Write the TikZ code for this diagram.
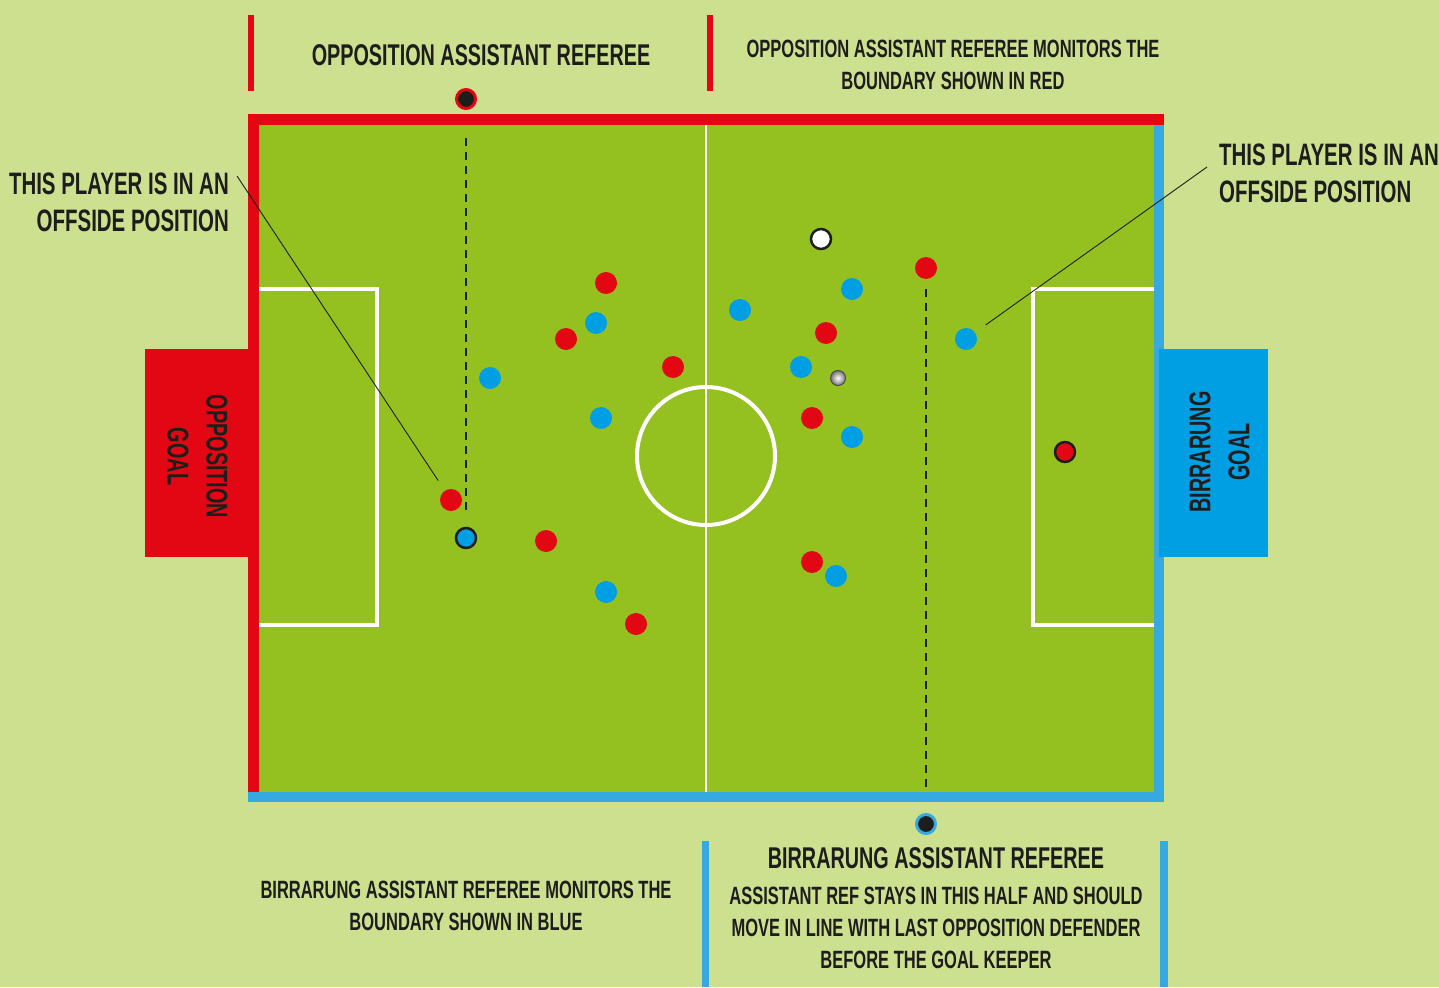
\documentclass[tikz,border=0pt]{standalone}
\usepackage{fontspec}
\newfontfamily\labfont{Liberation Sans}[FakeStretch=0.66]
\usetikzlibrary{calc}
\definecolor{bgc}{RGB}{205,224,144}
\definecolor{fieldc}{RGB}{148,193,31}
\definecolor{redc}{RGB}{227,6,19}
\definecolor{linec}{RGB}{54,169,225}
\definecolor{bluec}{RGB}{0,159,227}
\definecolor{txc}{RGB}{29,29,27}
\tikzset{
  bigtxt/.style={font={\labfont\bfseries\fontsize{30}{38}\selectfont}, text=txc, inner sep=0pt},
  smalltxt/.style={font={\labfont\bfseries\fontsize{25}{32}\selectfont}, text=txc, inner sep=0pt},
  annotxt/.style={font={\labfont\bfseries\fontsize{31}{37}\selectfont}, text=txc, inner sep=0pt},
  redp/.style={circle, fill=redc, minimum size=22pt, inner sep=0pt},
  bluep/.style={circle, fill=bluec, minimum size=22pt, inner sep=0pt},
  outlined/.style={draw=txc, line width=2.5pt, minimum size=20pt},
  refp/.style={circle, fill=txc, minimum size=19pt, inner sep=0pt, line width=3pt},
  whiteline/.style={draw=white, line width=4pt},
  leader/.style={draw=txc, line width=0.9pt},
  offline/.style={draw=txc, line width=1.2pt, dash pattern=on 8pt off 6pt},
}
\begin{document}
\begin{tikzpicture}[x=1pt,y=-1pt]
\useasboundingbox (0,0) rectangle (1439,987);
\fill[bgc] (0,0) rectangle (1439,987);

% left goal
\fill[redc] (145,349) rectangle (250,557);
\node[bigtxt, rotate=-90, align=center, font={\labfont\bfseries\fontsize{30}{39}\selectfont}] (oppgoal) at (197.5,456.5) {OPPOSITION\\GOAL};

% field
\fill[fieldc] (248,114) rectangle (1164,802);
\draw[draw=white, line width=2.5pt] (706,125) -- (706,792);
\draw[whiteline] (706,456) circle (69);
\draw[whiteline] (259,289) -- (377,289) -- (377,625) -- (259,625);
\draw[whiteline] (1154,289) -- (1033,289) -- (1033,625) -- (1154,625);

% boundaries
\fill[redc] (248,114) rectangle (1164,125);
\fill[redc] (248,114) rectangle (259,792);
\fill[linec] (248,792) rectangle (1164,802);
\fill[linec] (1154,125) rectangle (1164,802);

% right goal
\fill[bluec] (1159,349) rectangle (1268,557);
\node[bigtxt, rotate=90, align=center, font={\labfont\bfseries\fontsize{30}{39}\selectfont}] (birgoal) at (1219.5,452) {BIRRARUNG\\GOAL};

% header bars
\fill[redc] (248,15) rectangle (254,91);
\fill[redc] (707,15) rectangle (713,91);
\fill[linec] (702,841) rectangle (709,987);
\fill[linec] (1160,841) rectangle (1168,987);

% texts
\node[bigtxt] (oppref) at (481,55) {OPPOSITION ASSISTANT REFEREE};
\node[smalltxt, align=center] (oppmon) at (953,65) {OPPOSITION ASSISTANT REFEREE MONITORS THE\\BOUNDARY SHOWN IN RED};
\node[bigtxt] (birref) at (936,858) {BIRRARUNG ASSISTANT REFEREE};
\node[smalltxt, align=center] (birnote) at (936,928) {ASSISTANT REF STAYS IN THIS HALF AND SHOULD\\MOVE IN LINE WITH LAST OPPOSITION DEFENDER\\BEFORE THE GOAL KEEPER};
\node[smalltxt, align=center] (birmon) at (466,906) {BIRRARUNG ASSISTANT REFEREE MONITORS THE\\BOUNDARY SHOWN IN BLUE};
\node[annotxt, align=right, anchor=east] (offl) at (229,202.5) {THIS PLAYER IS IN AN\\OFFSIDE POSITION};
\node[annotxt, align=left, anchor=west] (offr) at (1219,173.5) {THIS PLAYER IS IN AN\\OFFSIDE POSITION};

% referees
\node[refp, draw=redc] (reftop) at (466,99) {};
\node[refp, draw=linec] (refbot) at (926,824) {};

% players red
\node[redp] (r1) at (606,283) {};
\node[redp] (r2) at (566,339) {};
\node[redp] (r3) at (673,367) {};
\node[redp] (r4) at (451,500) {};
\node[redp] (r5) at (546,541) {};
\node[redp] (r6) at (636,624) {};
\node[redp] (r7) at (926,268) {};
\node[redp] (r8) at (826,333) {};
\node[redp] (r9) at (812,418) {};
\node[redp] (r10) at (812,562) {};
\node[redp, outlined] (rgk) at (1065,452) {};
% players blue
\node[bluep] (b1) at (596,323) {};
\node[bluep] (b2) at (490,378) {};
\node[bluep] (b3) at (601,418) {};
\node[bluep] (b4) at (606,592) {};
\node[bluep] (b5) at (740,310) {};
\node[bluep] (b6) at (852,289) {};
\node[bluep] (b7) at (801,367) {};
\node[bluep] (b8) at (852,437) {};
\node[bluep] (b9) at (836,576) {};
\node[bluep] (b10) at (966,339) {};
\node[bluep, outlined] (bdef) at (466,538) {};
% referee on field and ball
\node[circle, fill=white, outlined, inner sep=0pt] (ref) at (821,239) {};
\node[circle, inner sep=0pt, minimum size=15pt, draw=txc!80, line width=1pt, inner color=white, outer color=black!55] (ball) at (838,378) {};

% offside lines
\coordinate (ltop) at (466,138);
\draw[offline] (ltop) -- ($(bdef.north)+(0,-12)$);
\coordinate (rbot) at (926,790);
\draw[offline] (r7.south) ++(0,10) -- (rbot);

% leader lines
\coordinate (lstart) at (237,176);
\coordinate (rstart) at (1207,167);
\draw[leader, shorten >=12pt] (lstart) -- (r4);
\draw[leader, shorten >=13pt] (rstart) -- (b10);
\end{tikzpicture}
\end{document}
